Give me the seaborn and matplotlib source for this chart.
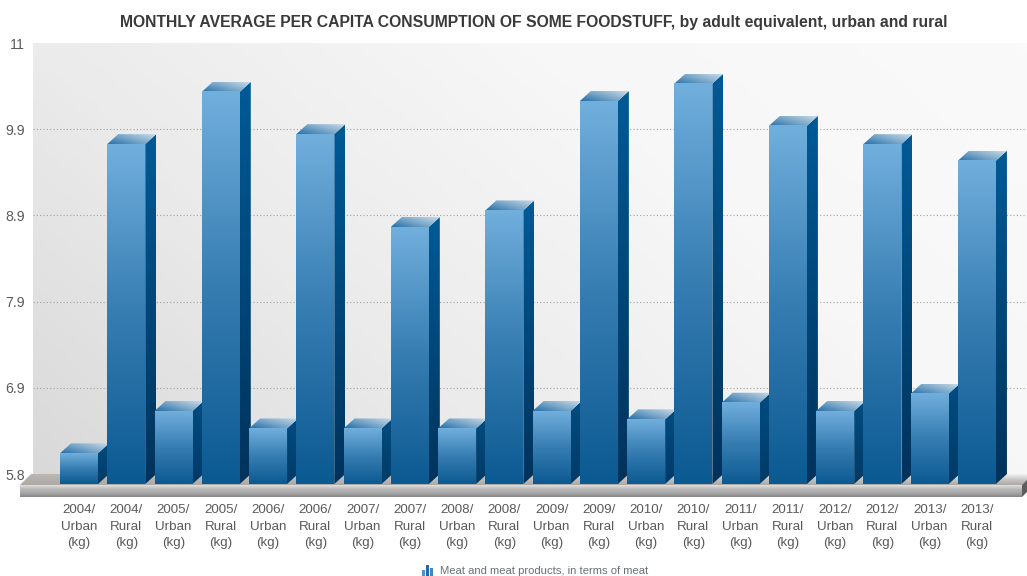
import numpy as np
import pandas as pd
import seaborn as sns
import matplotlib
matplotlib.use("Agg")
import matplotlib.pyplot as plt
from matplotlib.patches import Polygon, Rectangle
from matplotlib.colors import LinearSegmentedColormap as LSC

years = [2004, 2004, 2005, 2005, 2006, 2006, 2007, 2007, 2008, 2008,
         2009, 2009, 2010, 2010, 2011, 2011, 2012, 2012, 2013, 2013]
areas = ["Urban", "Rural"] * 10
values = [6.17, 9.9, 6.68, 10.53, 6.47, 10.02, 6.47, 8.9, 6.47, 9.1,
          6.68, 10.42, 6.58, 10.63, 6.78, 10.12, 6.68, 9.9, 6.89, 9.7]
y_ticklabels = ["5.8", "6.9", "7.9", "8.9", "9.9", "11"]
title = "MONTHLY AVERAGE PER CAPITA CONSUMPTION OF SOME FOODSTUFF, by adult equivalent, urban and rural"
legend_label = "Meat and meat products, in terms of meat"
labels = [f"{y}/\n{a}\n(kg)" for y, a in zip(years, areas)]

W, H = 1027, 576
sns.set_theme(style="white")
plt.rcParams["font.family"] = ["Liberation Sans", "DejaVu Sans"]
TXT = "#5a5a5a"
fig = plt.figure(figsize=(W / 100, H / 100), dpi=100, facecolor="white")

def box(l, t, r, b):
    return [l / W, (H - b) / H, (r - l) / W, (b - t) / H]

# back wall
back = fig.add_axes(box(33, 43, 1027, 474), zorder=1)
back.set_autoscale_on(False)
back.set_xlim(0, 1)
back.set_ylim(5.8, 11)
xx, yy = np.meshgrid(np.linspace(0, 1, 200), np.linspace(0, 1, 100))
wall = np.clip(0.66 * xx + 0.34 * yy, 0, 1)
back.imshow(wall, extent=(0, 1, 11, 5.8), aspect="auto", origin="upper",
            cmap=LSC.from_list("w", ["#d9d9d9", "#ebebeb", "#f7f7f7", "#fafafa"]), vmin=0, vmax=1, zorder=0)
back.set_xlim(0, 1)
back.set_ylim(5.8, 11)
back.set_yticks(np.linspace(5.8, 11, 6))
back.set_yticklabels(y_ticklabels, fontsize=10.2, color=TXT)
back.set_xticks([])
back.tick_params(axis="y", length=0, pad=5.5)
back.grid(axis="y", color="#a2a2a2", linestyle=(0, (1, 2)), linewidth=0.8)
back.yaxis.get_gridlines()[0].set_visible(False)
back.yaxis.get_gridlines()[-1].set_visible(False)
sns.despine(ax=back, left=True, bottom=True)

# floor slab
deco = fig.add_axes([0, 0, 1, 1], zorder=2)
deco.set_autoscale_on(False)
deco.set_xlim(0, W)
deco.set_ylim(H, 0)
deco.axis("off")
deco.patch.set_alpha(0)

top_poly = Polygon([(20, 485), (31, 474), (1034, 474), (1022, 485)], closed=True, fc="none", ec="none")
deco.add_patch(top_poly)
gx, gy = np.meshgrid(np.linspace(0, 1, 200), np.linspace(0, 1, 12))
shade = np.clip((0.2 + 0.8 * gx) * (1 - gy), 0, 1)
im = deco.imshow(shade, extent=(20, 1034, 485, 474), aspect="auto",
                 cmap=LSC.from_list("f", ["#aeaaa6", "#c9c7c5", "#f0f0f0"]), vmin=0, vmax=1, zorder=1)
im.set_clip_path(top_poly)
im = deco.imshow(np.linspace(0, 1, 24)[:, None], extent=(20, 1022, 497, 485), aspect="auto",
                 cmap=LSC.from_list("s", ["#dedede", "#b8b8b8", "#a8a8a8", "#868686"]), vmin=0, vmax=1, zorder=2)
deco.add_patch(Polygon([(1022, 485), (1028, 479), (1028, 491), (1022, 497)], closed=True,
                       fc="#5e5e5e", ec="none", zorder=2))
# legend key
for x0, h, c in [(421.5, 6, "#4f93cb"), (425.5, 11, "#1f6aa8"), (429.5, 8, "#3e86c0")]:
    deco.add_patch(Rectangle((x0, 576 - h), 3, h, fc=c, ec="none", zorder=3))
deco.text(440, 571, legend_label, fontsize=8.1, color="#687078", va="center", ha="left")
deco.text(533.5, 22, title, fontsize=11.35, fontweight="bold", color="#3a3a3a", va="center", ha="center")

# bars
STEP = 47.26
PX_PER_UNIT = 82.9
left_px = 79 - STEP / 2
ax = fig.add_axes(box(left_px, 33, left_px + STEP * 20.5, 484), zorder=3)
ax.patch.set_alpha(0)
df = pd.DataFrame({"label": labels, "value": values})
sns.barplot(data=df, x="label", y="value", width=0.804, color="#3f86bd", ax=ax, saturation=1, order=labels)
ax.set_autoscale_on(False)
ax.set_xlim(-0.5, 20)
ax.set_ylim(5.8, 5.8 + 451 / PX_PER_UNIT)
ax.set_xlabel("")
ax.set_ylabel("")
ax.set_yticks([])
ax.tick_params(axis="x", length=0, pad=14.6)
for t in ax.get_xticklabels():
    t.set_fontsize(9.6)
    t.set_color(TXT)
    t.set_linespacing(1.47)
sns.despine(ax=ax, left=True, bottom=True)

front_cm = LSC.from_list("front", ["#0c5a92", "#367db2", "#70aedc"])
side_cm = LSC.from_list("side", ["#00335c", "#005a96"])
top_cm = LSC.from_list("top", ["#2a72aa", "#7ba8ca", "#c6d8e6"])
dx = 11 / STEP
dy = 10 / PX_PER_UNIT

def shaded(grid, cmap, extent, clip, z):
    image = ax.imshow(grid, extent=extent, aspect="auto", origin="lower", cmap=cmap,
                      vmin=0, vmax=1, zorder=z, interpolation="bilinear")
    image.set_clip_path(clip)

ramp = np.linspace(0, 1, 64)[:, None]
ux, uy = np.meshgrid(np.linspace(0, 1, 24), np.linspace(0, 1, 8))
for i, bar in enumerate(list(ax.patches)):
    l, r = bar.get_x(), bar.get_x() + bar.get_width()
    v = bar.get_height()
    z = 3 + i
    bar.set_facecolor("none")
    bar.set_edgecolor("none")
    side = Polygon([(r, 5.8), (r + dx, 5.8 + dy), (r + dx, v + dy), (r, v)], closed=True, fc="none", ec="none", zorder=z)
    ax.add_patch(side)
    frac = np.clip((v - 5.8) / 2.2, 0.45, 1)
    shaded(ramp * frac + (1 - frac) * 0.35, side_cm, (r, r + dx, 5.8, v + dy), side, z)
    lid = Polygon([(l, v), (r, v), (r + dx, v + dy), (l + dx, v + dy)], closed=True, fc="none", ec="none", zorder=z)
    ax.add_patch(lid)
    shaded(0.6 * ux + 0.4 * uy, top_cm, (l, r + dx, v, v + dy), lid, z)
    ax.imshow(ramp, extent=(l, r, 5.8, v), aspect="auto", origin="lower", cmap=front_cm,
              vmin=0, vmax=1, zorder=z + 0.5, interpolation="bilinear")

fig.savefig("out.png", dpi=100)
